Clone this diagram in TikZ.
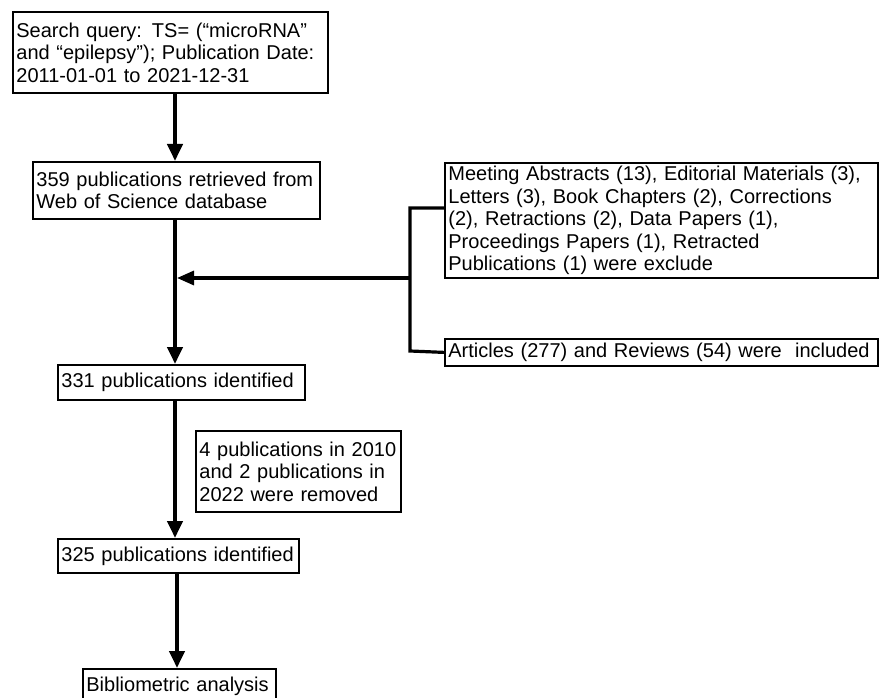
\documentclass[tikz,border=0pt]{standalone}
\usepackage{fontspec}
\setmainfont{Liberation Sans}
\usetikzlibrary{arrows.meta}
\newcommand\fsbox{\fontsize{20pt}{22.5pt}\selectfont}
\begin{document}
\begin{tikzpicture}[x=1pt,y=-1pt,
  box/.style={draw, line width=1.8pt, anchor=north west, inner xsep=3.5pt, inner ysep=0pt, align=left, font=\fsbox},
  arr/.style={line width=4pt, -{Triangle[width=15pt,length=17pt]}},
  harr/.style={line width=3.2pt, -{Triangle[width=14pt,length=17pt]}},
  brk/.style={line width=3.2pt}]
\useasboundingbox (0,0) rectangle (879,698);
\node[box, text width=308pt, minimum height=81pt] (b1) at (12,11)
  {Search query: TS= (“microRNA”\\and “epilepsy”); Publication Date:\\2011-01-01 to 2021-12-31};
\node[box, text width=280pt, minimum height=57pt] (b2) at (32,161)
  {359 publications retrieved from\\Web of Science database};
\node[box, text width=426pt, minimum height=115pt] (meet) at (444,162)
  {Meeting Abstracts (13), Editorial Materials (3),\\Letters (3), Book Chapters (2), Corrections\\(2), Retractions (2), Data Papers (1),\\Proceedings Papers (1), Retracted\\Publications (1) were exclude};
\node[box, text width=426pt, minimum height=27pt] (art) at (444,338)
  {Articles (277) and Reviews (54) were \ included};
\node[box, text width=240pt, minimum height=35pt] (b3) at (57,364)
  {331 publications identified};
\node[box, text width=198pt, minimum height=81pt] (rem) at (195,430)
  {4 publications in 2010\\and 2 publications in\\2022 were removed};
\node[box, text width=234pt, minimum height=34pt] (b4) at (57,538)
  {325 publications identified};
\node[box, text width=186pt, minimum height=34pt] (bib) at (82,668)
  {Bibliometric analysis};
\coordinate (m) at (175,0);
\coordinate (m2) at (177,0);
\coordinate (brt) at (410,208);
\coordinate (brb) at (410,351);
\coordinate (jn) at (410,278);
\coordinate (hit) at (177,278);
\draw[arr] (b1.south -| m) -- (b2.north -| m);
\draw[arr] (b2.south -| m) -- (b3.north -| m);
\draw[arr] (b3.south -| m) -- (b4.north -| m);
\draw[arr] (b4.south -| m2) -- (bib.north -| m2);
\draw[brk] (meet.west |- brt) -- (brt) -- (brb) -- (art.west);
\draw[harr] (jn) -- (hit);
\end{tikzpicture}
\end{document}
